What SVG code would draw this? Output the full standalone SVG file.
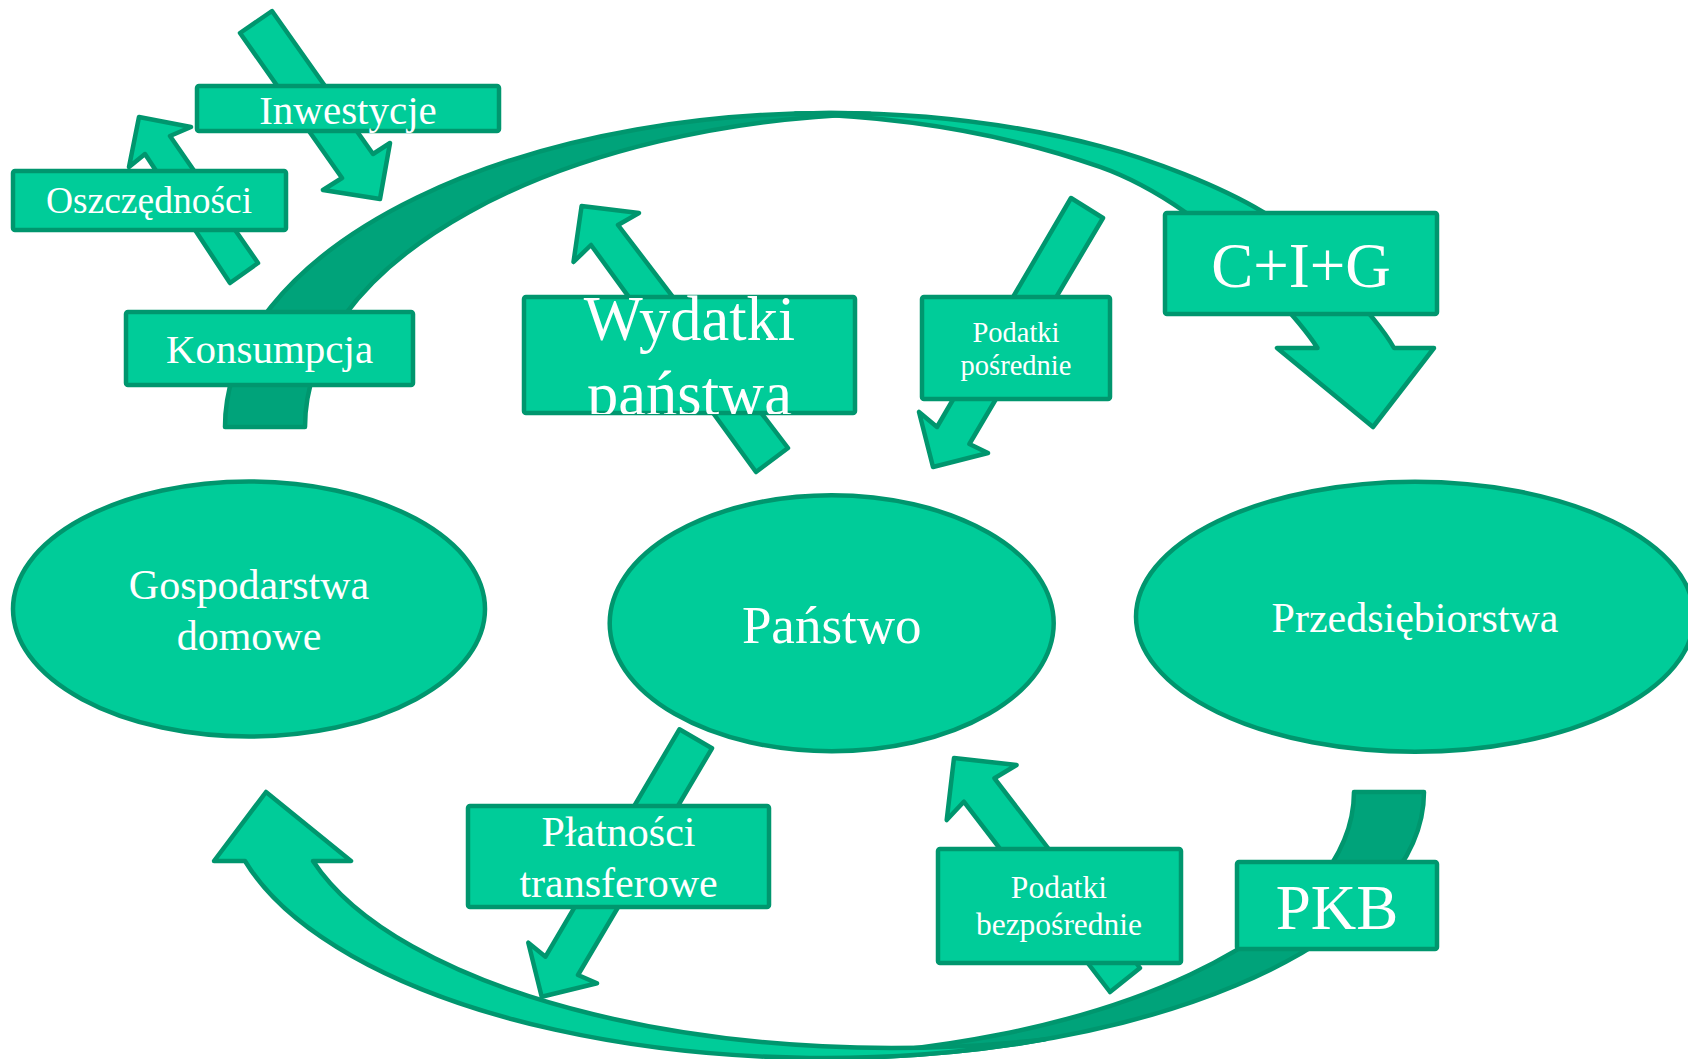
<svg xmlns="http://www.w3.org/2000/svg" width="1688" height="1059" viewBox="0 0 1688 1059">
<defs>
<style>
.s{fill:#00CC99;stroke:#00966E;stroke-width:4.5;stroke-linejoin:round}
.d{fill:#00A37A;stroke:#00966E;stroke-width:4.5;stroke-linejoin:round}
.t{fill:#ffffff;font-family:"Liberation Serif","Times New Roman",serif;text-anchor:middle}
</style>
<clipPath id="cw"><rect x="520" y="290" width="340" height="124"/></clipPath>
</defs>
<rect width="1688" height="1059" fill="#ffffff"/>
<g id="connectors">
<path class="d" d="M225,427 A605,314 0 0 1 870,113.7 A605,314 0 0 0 305,427 Z"/>
<path class="s" d="M795.5,113.5 A605,314 0 0 1 1100,146.1 C1150,159 1220,186 1263,212 C1301.5,235.3 1377,317.4 1394,348 L1434,348 L1373,427 L1277,348 L1317.5,348 C1298.8,318.4 1226,240.7 1185,212 C1160.4,194.8 1128.3,176.9 1100,166.9 A605,314 0 0 0 795.5,113.5 Z"/>
<path class="d" d="M1354,792 L1424,792 A600,266 0 0 1 789,1057.5 A600,266 0 0 0 1354,792 Z"/>
<path class="s" d="M214,861 L266,792 L351,861 L313,861 A600,256 0 0 0 1045,1039.4 A600,266 0 0 1 245,861 Z"/>
<polygon class="s" points="240,33 342,178 323,190 380,199 390,143 373,154 272,11"/>
<polygon class="s" points="230,283 145,154 129,167 139,117 191,127 170,136 258,263"/>
<polygon class="s" points="756,472 591,245 573.5,262 581.6,206 639,213 618,225 788,448"/>
<polygon class="s" points="1071,198 937,427 919,412 933,467 988,453 969.4,444 1103,218"/>
<polygon class="s" points="679.4,729.3 545.5,956.7 528.3,942.7 541.7,996.7 597,983.3 578,975 712,748.3"/>
<polygon class="s" points="1110,992 963.8,801.7 946.7,820 954,758 1016.6,765 994.5,778.3 1140,968"/>
</g>
<g id="gospodarstwa">
<ellipse class="s" cx="249" cy="609" rx="236" ry="127.5"/>
<text class="t" x="249" y="599" font-size="42">Gospodarstwa</text>
<text class="t" x="249" y="650" font-size="42">domowe</text>
</g>
<g id="panstwo">
<ellipse class="s" cx="831.7" cy="623.3" rx="222" ry="128"/>
<text class="t" x="831.7" y="643" font-size="53">Państwo</text>
</g>
<g id="przedsiebiorstwa">
<ellipse class="s" cx="1415" cy="616.7" rx="279" ry="135"/>
<text class="t" x="1415" y="632" font-size="42">Przedsiębiorstwa</text>
</g>
<g id="inwestycje">
<rect class="s" x="197" y="86" width="302" height="45" rx="2"/>
<text class="t" x="348" y="124" font-size="41">Inwestycje</text>
</g>
<g id="oszczednosci">
<rect class="s" x="13" y="171" width="273" height="59" rx="2"/>
<text class="t" x="149" y="213" font-size="37.5">Oszczędności</text>
</g>
<g id="konsumpcja">
<rect class="s" x="126" y="312" width="287" height="73" rx="2"/>
<text class="t" x="269.5" y="363" font-size="41">Konsumpcja</text>
</g>
<g id="wydatki">
<rect class="s" x="524" y="297" width="331" height="116" rx="2"/>
<g clip-path="url(#cw)">
<text class="t" x="689.5" y="340" font-size="62.5">Wydatki</text>
<text class="t" x="689.5" y="415" font-size="62.5">państwa</text>
</g>
</g>
<g id="podatki-posrednie">
<rect class="s" x="922" y="297" width="188" height="102" rx="2"/>
<text class="t" x="1016" y="342" font-size="28.5">Podatki</text>
<text class="t" x="1016" y="375" font-size="28.5">pośrednie</text>
</g>
<g id="cig">
<rect class="s" x="1165" y="213" width="272" height="101" rx="2"/>
<text class="t" x="1301" y="287" font-size="63">C+I+G</text>
</g>
<g id="platnosci">
<rect class="s" x="468" y="806" width="301" height="101" rx="2"/>
<text class="t" x="618.5" y="846" font-size="42">Płatności</text>
<text class="t" x="618.5" y="897" font-size="42">transferowe</text>
</g>
<g id="podatki-bezposrednie">
<rect class="s" x="938" y="849" width="243" height="114" rx="2"/>
<text class="t" x="1059" y="898" font-size="31.5">Podatki</text>
<text class="t" x="1059" y="935" font-size="31.5">bezpośrednie</text>
</g>
<g id="pkb">
<rect class="s" x="1237" y="862" width="200" height="87" rx="2"/>
<text class="t" x="1337" y="929" font-size="63">PKB</text>
</g>
</svg>
